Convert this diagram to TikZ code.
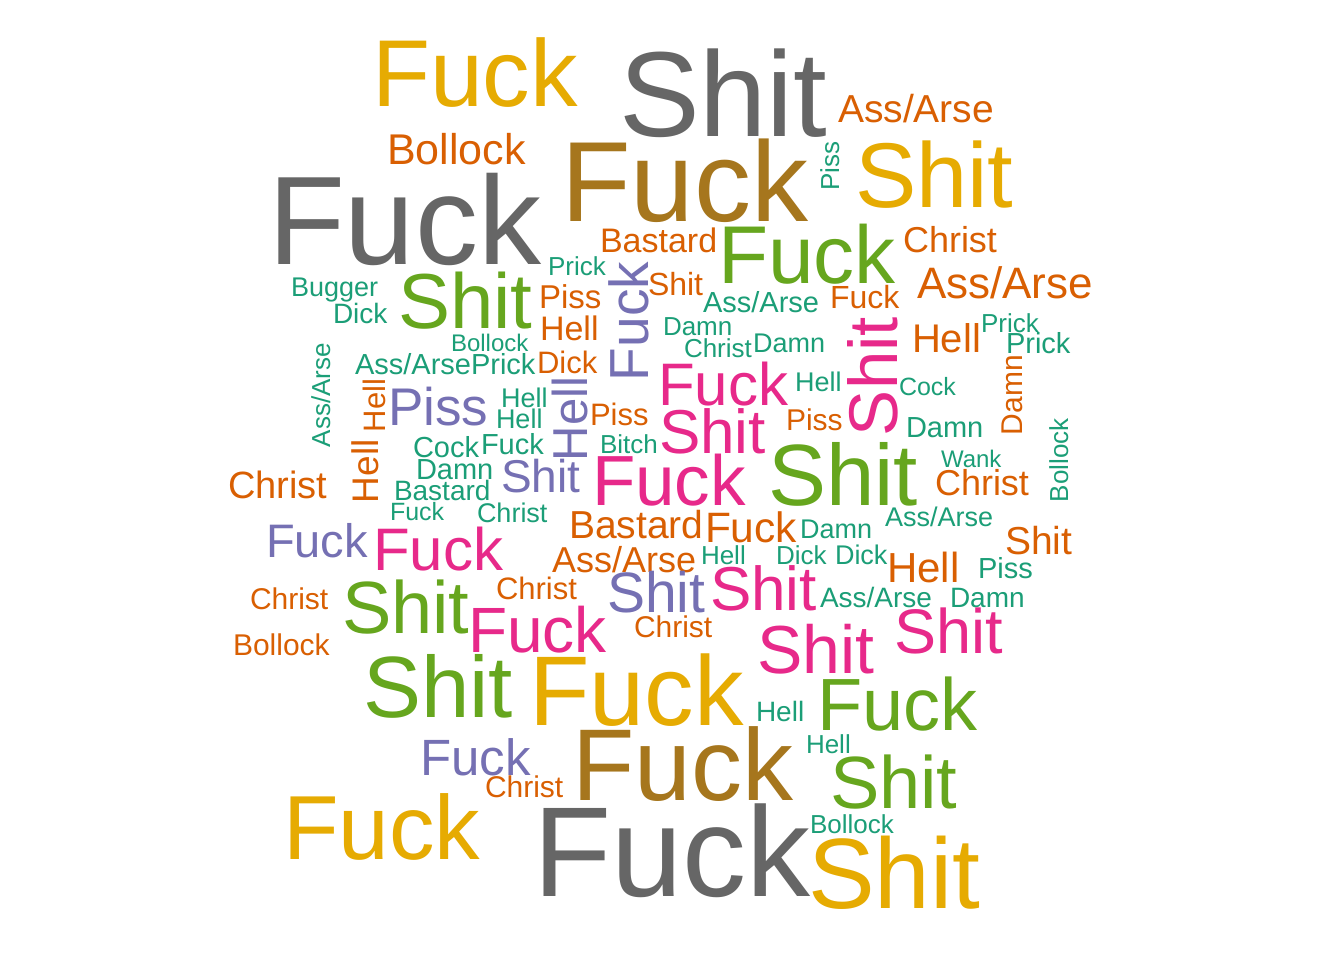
\documentclass[tikz,border=0pt]{standalone}
\usepackage{fontspec}
\setmainfont{Liberation Sans}
\definecolor{cT}{HTML}{1B9E77}
\definecolor{cO}{HTML}{D95F02}
\definecolor{cP}{HTML}{7570B3}
\definecolor{cK}{HTML}{E7298A}
\definecolor{cG}{HTML}{66A61E}
\definecolor{cY}{HTML}{E6AB02}
\definecolor{cB}{HTML}{A6761D}
\definecolor{cA}{HTML}{666666}
\tikzset{
  wt/.style={anchor=base west, inner sep=0pt, outer sep=0pt, font=\fontsize{#1pt}{#1pt}\selectfont},
  wr/.style={wt=#1, rotate=90},
  T/.style={text=cT}, O/.style={text=cO}, P/.style={text=cP}, K/.style={text=cK},
  G/.style={text=cG}, Y/.style={text=cY}, B/.style={text=cB}, A/.style={text=cA}
}
\begin{document}
\begin{tikzpicture}[x=1pt,y=-1pt]
\fill[white] (0,0) rectangle (1344,960);
\useasboundingbox (0,0) rectangle (1344,960);
% top
\node[wt=95,Y] (n1) at (372,107) {Fuck};
\node[wt=121,A] (n2) at (619,137) {Shit};
\node[wt=39,O] (n3) at (838,123) {Ass/Arse};
\node[wt=43,O] (n4) at (387,165) {Bollock};
\node[wt=126,A] (n5) at (268,265) {Fuck};
\node[wt=114,B] (n6) at (561,222) {Fuck};
\node[wr=26,T] (n7) at (839,191) {Piss};
\node[wt=92,Y] (n8) at (855,208) {Shit};
\node[wt=34,O] (n9) at (600,253) {Bastard};
\node[wt=82,G] (n10) at (718,283) {Fuck};
\node[wt=36,O] (n11) at (903,252) {Christ};
\node[wt=26,T] (n12) at (548,275) {Prick};
\node[wr=55,P] (n13) at (648,381) {Fuck};
\node[wt=32,O] (n14) at (648,295) {Shit};
\node[wt=27,T] (n15) at (291,296) {Bugger};
\node[wt=78,G] (n16) at (398,328) {Shit};
\node[wt=33,O] (n17) at (539,308) {Piss};
\node[wt=29,T] (n18) at (703,312) {Ass/Arse};
\node[wt=32,O] (n19) at (830,308) {Fuck};
\node[wt=44,O] (n20) at (917,298) {Ass/Arse};
\node[wt=28,T] (n21) at (333,323) {Dick};
\node[wt=34,O] (n22) at (540,340) {Hell};
\node[wt=26,T] (n23) at (663,335) {Damn};
\node[wr=69,K] (n24) at (897,436) {Shit};
\node[wt=40,O] (n25) at (912,352) {Hell};
\node[wt=26,T] (n26) at (981,332) {Prick};
\node[wt=29,T] (n27) at (1006,353) {Prick};
\node[wt=24,T] (n28) at (451,351) {Bollock};
\node[wt=26,T] (n29) at (684,357) {Christ};
\node[wt=27,T] (n30) at (753,352) {Damn};
\node[wt=29,T] (n31) at (355,374) {Ass/Arse};
\node[wt=29,T] (n32) at (471,374) {Prick};
\node[wt=31,O] (n33) at (537,373) {Dick};
\node[wr=26,T] (n34) at (330,447) {Ass/Arse};
\node[wr=31,O] (n35) at (385,432) {Hell};
\node[wt=53,P] (n36) at (388,425) {Piss};
\node[wt=27,T] (n37) at (501,407) {Hell};
\node[wt=27,T] (n38) at (496,428) {Hell};
\node[wr=49,P] (n39) at (587,461) {Hell};
\node[wt=31,O] (n40) at (590,425) {Piss};
\node[wt=60,K] (n41) at (658,405) {Fuck};
\node[wt=27,T] (n42) at (795,391) {Hell};
\node[wt=25,T] (n43) at (899,395) {Cock};
\node[wr=30,O] (n44) at (1022,435) {Damn};
\node[wt=62,K] (n45) at (659,453) {Shit};
\node[wt=30,O] (n46) at (786,430) {Piss};
\node[wt=29,T] (n47) at (906,437) {Damn};
\node[wr=26,T] (n48) at (1068,502) {Bollock};
\node[wt=29,T] (n49) at (413,457) {Cock};
\node[wt=29,T] (n50) at (481,454) {Fuck};
\node[wt=26,T] (n51) at (600,453) {Bitch};
\node[wt=38,O] (n52) at (228,498) {Christ};
\node[wr=37,O] (n53) at (378,503) {Hell};
\node[wt=29,T] (n54) at (416,479) {Damn};
\node[wt=46,P] (n55) at (501,492) {Shit};
\node[wt=28,T] (n56) at (394,500) {Bastard};
\node[wt=71,K] (n57) at (592,505) {Fuck};
\node[wt=87,G] (n58) at (768,505) {Shit};
\node[wt=24,T] (n59) at (941,467) {Wank};
\node[wt=36,O] (n60) at (935,495) {Christ};
\node[wt=25,T] (n61) at (390,520) {Fuck};
\node[wt=27,T] (n62) at (477,522) {Christ};
\node[wt=39,O] (n63) at (569,538) {Bastard};
\node[wt=42.5,O] (n64) at (705,542) {Fuck};
\node[wt=27,T] (n65) at (800,538) {Damn};
\node[wt=27,T] (n66) at (885,526) {Ass/Arse};
\node[wt=39,O] (n67) at (1005,554) {Shit};
\node[wt=47,P] (n68) at (266,557) {Fuck};
\node[wt=60,K] (n69) at (373,570) {Fuck};
\node[wt=36,O] (n70) at (552,572) {Ass/Arse};
\node[wt=26,T] (n71) at (701,564) {Hell};
\node[wt=26,T] (n72) at (776,564) {Dick};
\node[wt=27,T] (n73) at (835,564) {Dick};
\node[wt=42,O] (n74) at (887,582) {Hell};
\node[wt=29,T] (n75) at (978,578) {Piss};
\node[wt=31,O] (n76) at (496,599) {Christ};
\node[wt=57,P] (n77) at (607,612) {Shit};
\node[wt=62,K] (n78) at (710,610) {Shit};
\node[wt=28,T] (n79) at (820,607) {Ass/Arse};
\node[wt=28,T] (n80) at (950,607) {Damn};
\node[wt=30,O] (n81) at (250,609) {Christ};
\node[wt=74,G] (n82) at (342,633) {Shit};
\node[wt=64,K] (n83) at (468,652) {Fuck};
\node[wt=30,O] (n84) at (634,637) {Christ};
\node[wt=68,K] (n85) at (757,673) {Shit};
\node[wt=63,K] (n86) at (894,653) {Shit};
\node[wt=30,O] (n87) at (233,655) {Bollock};
\node[wt=87,G] (n88) at (363,717) {Shit};
\node[wt=99,Y] (n89) at (529,725) {Fuck};
\node[wt=28,T] (n90) at (756,721) {Hell};
\node[wt=74,G] (n91) at (817,730) {Fuck};
\node[wt=51,P] (n92) at (420,775) {Fuck};
\node[wt=26,T] (n93) at (806,753) {Hell};
\node[wt=102,B] (n94) at (572,800) {Fuck};
\node[wt=30,O] (n95) at (485,797) {Christ};
\node[wt=74,G] (n96) at (830,808) {Shit};
\node[wt=91,Y] (n97) at (283,859) {Fuck};
\node[wt=26,T] (n98) at (810,833) {Bollock};
\node[wt=128,A] (n99) at (533,896) {Fuck};
\node[wt=100,Y] (n100) at (808,908) {Shit};
\end{tikzpicture}
\end{document}
